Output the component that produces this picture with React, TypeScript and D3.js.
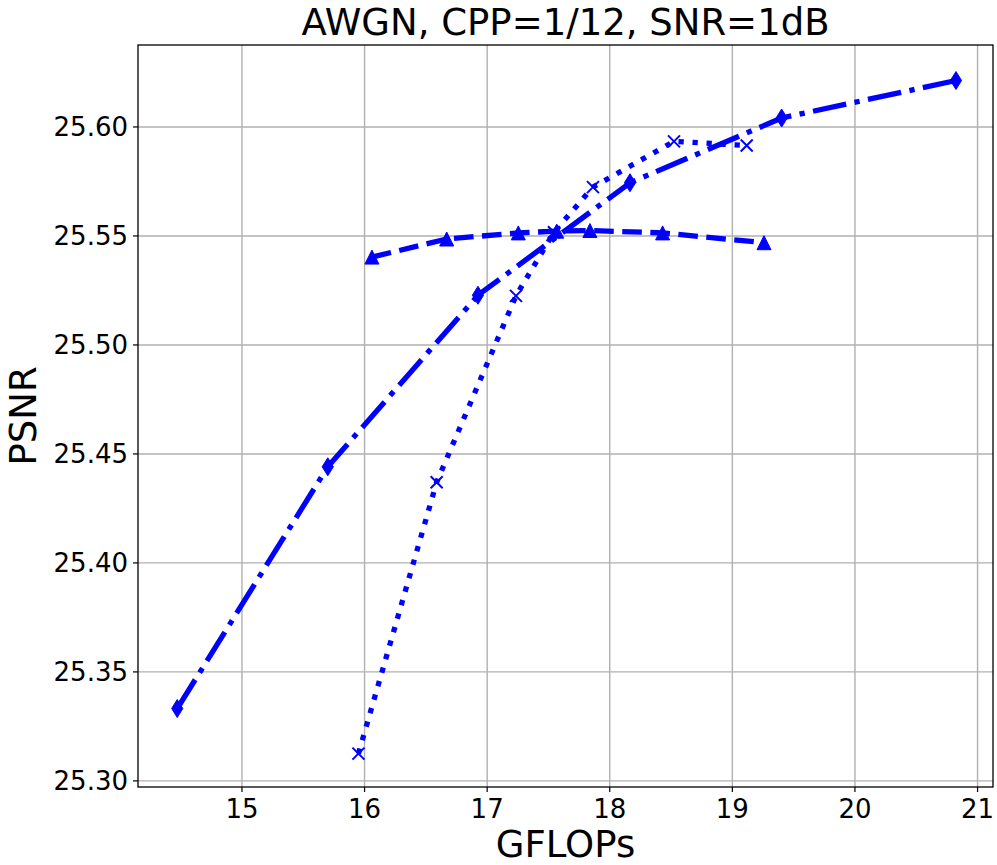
import React from "react";
import * as d3 from "d3";

const diamondX = [14.472, 15.70, 16.925, 18.165, 19.402, 20.824];
const diamondY = [25.3332, 25.4441, 25.5228, 25.5744, 25.6041, 25.6213];

const triangleX = [16.06, 16.67, 17.254, 17.567, 17.838, 18.431, 19.258];
const triangleY = [25.5403, 25.5486, 25.5514, 25.5522, 25.5525, 25.5514, 25.5469];

const crossX = [15.95, 16.588, 17.235, 17.545, 17.863, 18.524, 19.117];
const crossY = [25.3125, 25.437, 25.5225, 25.5517, 25.5724, 25.5934, 25.5915];

const xTicks = [15, 16, 17, 18, 19, 20, 21];
const yTicks = [25.30, 25.35, 25.40, 25.45, 25.50, 25.55, 25.60];

const title = "AWGN, CPP=1/12, SNR=1dB";
const xLabel = "GFLOPs";
const yLabel = "PSNR";

const W = 997;
const H = 865;
const left = 138;
const right = 993;
const top = 45;
const bottom = 787;

const FONT = "DejaVu Sans, sans-serif";
const BLUE = "#0000ff";

export default function App() {
  const x = d3.scaleLinear().domain([14.152, 21.126]).range([left, right]);
  const y = d3.scaleLinear().domain([25.2972, 25.6376]).range([bottom, top]);
  const lineGen = d3
    .line<[number, number]>()
    .x((d) => x(d[0]))
    .y((d) => y(d[1]));

  const dia = diamondX.map((v, i) => [v, diamondY[i]] as [number, number]);
  const tri = triangleX.map((v, i) => [v, triangleY[i]] as [number, number]);
  const crs = crossX.map((v, i) => [v, crossY[i]] as [number, number]);

  const lw = 5.3;

  return (
    <svg width={W} height={H} style={{ display: "block", position: "absolute", left: 0, top: 0 }}>
      <rect x={0} y={0} width={W} height={H} fill="#ffffff" />
      {/* grid */}
      {xTicks.map((t) => (
        <line key={"gx" + t} x1={x(t)} x2={x(t)} y1={top} y2={bottom} stroke="#b0b0b0" strokeWidth={1.4} />
      ))}
      {yTicks.map((t) => (
        <line key={"gy" + t} x1={left} x2={right} y1={y(t)} y2={y(t)} stroke="#b0b0b0" strokeWidth={1.4} />
      ))}
      {/* series lines */}
      <path d={lineGen(dia) || ""} fill="none" stroke={BLUE} strokeWidth={lw}
        strokeDasharray={`${6.4 * lw} ${1.6 * lw} ${1 * lw} ${1.6 * lw}`} strokeLinecap="butt" strokeLinejoin="round" />
      {dia.map((d, i) => {
        const cx = x(d[0]);
        const cy = y(d[1]);
        const h = 9;
        const w = 5.6;
        return (
          <path key={"d" + i} d={`M${cx},${cy - h}L${cx + w},${cy}L${cx},${cy + h}L${cx - w},${cy}Z`} fill={BLUE} stroke={BLUE} strokeWidth={1} />
        );
      })}
      <path d={lineGen(tri) || ""} fill="none" stroke={BLUE} strokeWidth={lw}
        strokeDasharray={`${3.7 * lw} ${1.6 * lw}`} strokeLinecap="butt" strokeLinejoin="round" />
      {tri.map((d, i) => {
        const cx = x(d[0]);
        const cy = y(d[1]);
        const s = 7;
        return (
          <path key={"t" + i} d={`M${cx},${cy - s}L${cx + s},${cy + s}L${cx - s},${cy + s}Z`} fill={BLUE} stroke={BLUE} strokeWidth={1} />
        );
      })}
      <path d={lineGen(crs) || ""} fill="none" stroke={BLUE} strokeWidth={lw}
        strokeDasharray={`${1 * lw} ${1.65 * lw}`} strokeLinecap="butt" strokeLinejoin="round" />
      {crs.map((d, i) => {
        const cx = x(d[0]);
        const cy = y(d[1]);
        const s = 6;
        return (
          <path key={"c" + i} d={`M${cx - s},${cy - s}L${cx + s},${cy + s}M${cx - s},${cy + s}L${cx + s},${cy - s}`} fill="none" stroke={BLUE} strokeWidth={2} />
        );
      })}
      {/* spines */}
      <rect x={left} y={top} width={right - left} height={bottom - top} fill="none" stroke="#000" strokeWidth={1.3} />
      {/* ticks */}
      {xTicks.map((t) => (
        <g key={"xt" + t}>
          <line x1={x(t)} x2={x(t)} y1={bottom} y2={bottom + 5} stroke="#000" strokeWidth={1.2} />
          <text x={x(t)} y={bottom + 11} dy="0.76em" textAnchor="middle" fontFamily={FONT} fontSize={26} fill="#000">
            {t}
          </text>
        </g>
      ))}
      {yTicks.map((t) => (
        <g key={"yt" + t}>
          <line x1={left - 5} x2={left} y1={y(t)} y2={y(t)} stroke="#000" strokeWidth={1.2} />
          <text x={left - 10} y={y(t)} dy="0.36em" textAnchor="end" fontFamily={FONT} fontSize={26} fill="#000">
            {t.toFixed(2)}
          </text>
        </g>
      ))}
      <text x={(left + right) / 2} y={35} textAnchor="middle" fontFamily={FONT} fontSize={37} fill="#000">
        {title}
      </text>
      <text x={(left + right) / 2} y={857} textAnchor="middle" fontFamily={FONT} fontSize={37} fill="#000">
        {xLabel}
      </text>
      <text transform={`translate(36, ${(top + bottom) / 2}) rotate(-90)`} textAnchor="middle" fontFamily={FONT} fontSize={37} fill="#000">
        {yLabel}
      </text>
    </svg>
  );
}
